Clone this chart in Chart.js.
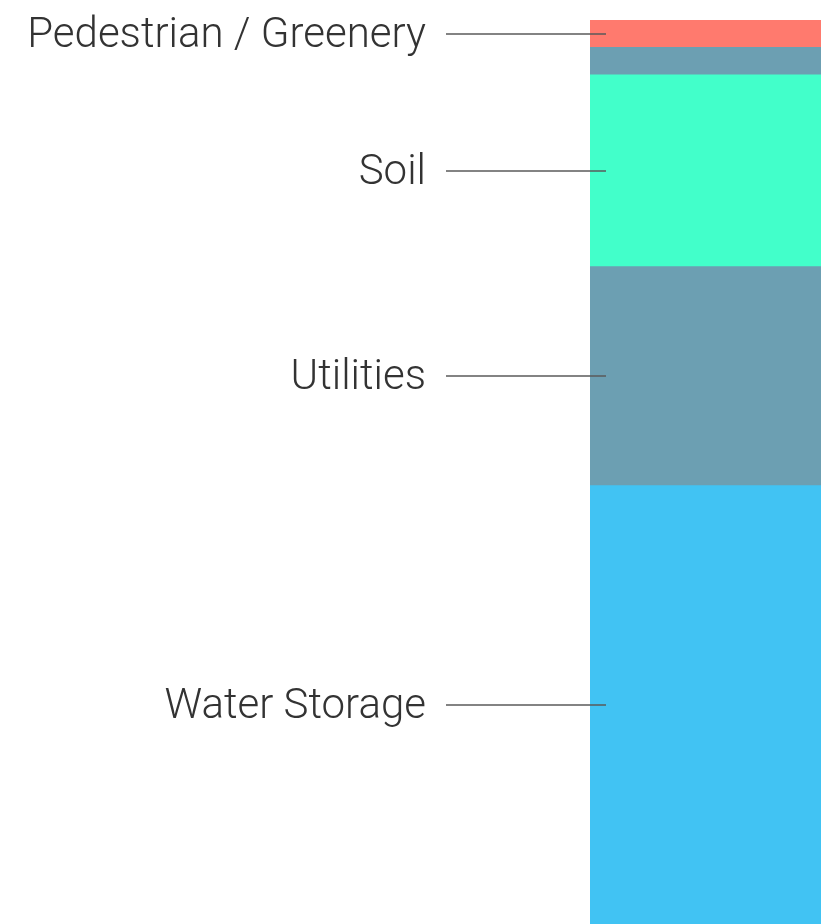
<!DOCTYPE html>
<html>
<head>
<meta charset="utf-8">
<script src="https://cdn.jsdelivr.net/npm/chart.js@4/dist/chart.umd.min.js"></script>
<style>
  html, body { margin: 0; padding: 0; background: #fff; }
  #wrap { width: 821px; height: 924px; }
</style>
</head>
<body>
<div id="wrap"><canvas id="layersChart" width="821" height="924"></canvas></div>
<script>
// stacked from the bottom up
const layers = ['Water Storage', 'Utilities', 'Soil', '', 'Pedestrian / Greenery'];
const depths = [48, 24, 21, 3, 3];
const colors = ['#41c3f3', '#6c9fb2', '#42ffca', '#6c9fb2', '#ff7a6e'];

const total = depths.reduce((a, b) => a + b, 0);

// leader lines + labels to the left of the bar
const labelPlugin = {
    id: 'leaderLabels',
    afterDatasetsDraw(chart) {
        const c = chart.ctx;
        c.save();
        c.font = '300 42px Roboto';
        c.textAlign = 'right';
        c.textBaseline = 'middle';
        chart.data.datasets.forEach((ds, i) => {
            if (!ds.label) return;
            const el = chart.getDatasetMeta(i).data[0];
            const y = Math.round((el.y + el.base) / 2);
            const left = el.x - el.width / 2;
            c.strokeStyle = '#5a5a5a';
            c.lineWidth = 1.4;
            c.beginPath();
            c.moveTo(left - 144, y);
            c.lineTo(left + 16, y);
            c.stroke();
            c.fillStyle = '#333';
            c.fillText(ds.label, left - 164, y + 2);
        });
        c.restore();
    }
};

const ctx = document.getElementById('layersChart').getContext('2d');
const chart = new Chart(ctx, {
    type: 'bar',
    data: {
        labels: ['Street'],
        datasets: layers.map((name, i) => ({
            label: name,
            data: [depths[i]],
            backgroundColor: colors[i],
            borderWidth: 0,
            barPercentage: 1,
            categoryPercentage: 1
        }))
    },
    options: {
        responsive: false,
        animation: false,
        layout: { padding: { left: 590, top: 20, right: 0, bottom: 0 } },
        plugins: { legend: { display: false }, tooltip: { enabled: false } },
        scales: {
            x: { stacked: true, display: false },
            y: { stacked: true, display: false, min: 0, max: total }
        }
    },
    plugins: [labelPlugin]
});
</script>
</body>
</html>
